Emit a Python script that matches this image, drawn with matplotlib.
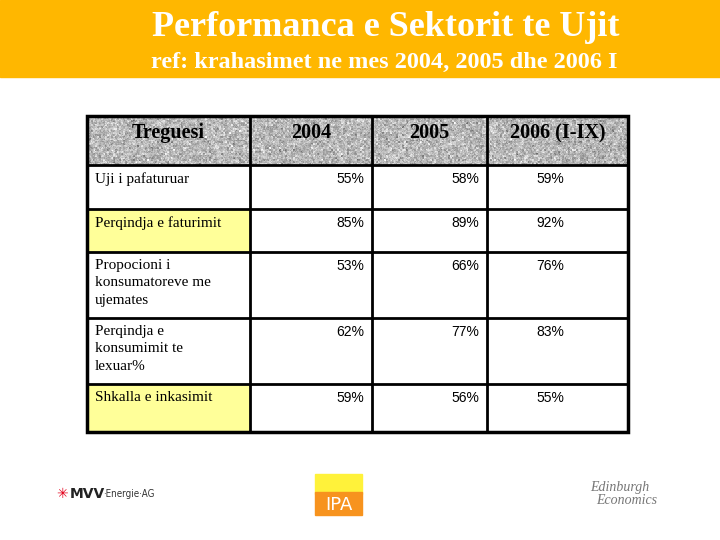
import numpy as np
import matplotlib.pyplot as plt
from matplotlib.patches import Rectangle

title = "Performanca e Sektorit te Ujit"
subtitle = "ref: krahasimet ne mes 2004, 2005 dhe 2006 I"
headers = ["Treguesi", "2004", "2005", "2006 (I-IX)"]
indicators = ["Uji i pafaturuar",
              "Perqindja e faturimit",
              "Propocioni i\nkonsumatoreve me\nujemates",
              "Perqindja e\nkonsumimit te\nlexuar%",
              "Shkalla e inkasimit"]
v2004 = [55, 85, 53, 62, 59]
v2005 = [58, 89, 66, 77, 56]
v2006 = [59, 92, 76, 83, 55]

# layout in pixels
col_x = [87, 250, 372, 487, 628]
row_y = [116, 165, 209, 252, 318, 384, 432]
yellow_rows = [1, 4]

fig = plt.figure(figsize=(7.2, 5.4), dpi=100)
ax = fig.add_axes([0, 0, 1, 1])
ax.set_xlim(0, 720)
ax.set_ylim(540, 0)
ax.axis('off')

serif = "Liberation Serif"

# orange band
ax.add_patch(Rectangle((0, 0), 720, 77, color="#FFB700", zorder=0))
ax.text(386, 28, title, ha='center', va='center', color='white',
        fontsize=26, fontweight='bold', family=serif, stretch='condensed')
ax.text(384, 62, subtitle, ha='center', va='center', color='white',
        fontsize=17.5, fontweight='bold', family=serif)

# header texture (granite look), purely decorative
rng = np.random.default_rng(3)
tex = rng.normal(0.72, 0.12, (25, 270))
tex = np.kron(tex, np.ones((2, 2))) * 0.6 + rng.normal(0.72, 0.12, (50, 540)) * 0.4
tex = tex.clip(0.35, 1)
ax.imshow(tex, cmap='gray', vmin=0, vmax=1, aspect='auto',
          extent=(col_x[0], col_x[-1], row_y[1], row_y[0]), zorder=1,
          interpolation='nearest')

for i, h in enumerate(headers):
    cx = (col_x[i] + col_x[i + 1]) / 2
    ax.text(cx, 133, h, ha='center', va='center', fontsize=14.5,
            fontweight='bold', family=serif, zorder=3)

cols = [v2004, v2005, v2006]
for r, name in enumerate(indicators):
    top = row_y[r + 1]
    bot = row_y[r + 2]
    fc = "#FFFF99" if r in yellow_rows else "white"
    ax.add_patch(Rectangle((col_x[0], top), col_x[1] - col_x[0], bot - top,
                           facecolor=fc, edgecolor='none', zorder=1))
    ax.text(95, top + 7, name, ha='left', va='top', fontsize=11,
            family=serif, linespacing=1.45, zorder=3)
    for c, vals in enumerate(cols):
        txt = f"{vals[r]}%"
        if c < 2:
            ax.text(col_x[c + 2] - 8, top + 7, txt, ha='right', va='top',
                    fontsize=10, family='Liberation Sans', zorder=3)
        else:
            ax.text(550, top + 7, txt, ha='center', va='top',
                    fontsize=10, family='Liberation Sans', zorder=3)

# grid lines
for x in col_x:
    ax.plot([x, x], [row_y[0], row_y[-1]], color='black', lw=2, zorder=4)
for y in row_y:
    ax.plot([col_x[0], col_x[-1]], [y, y], color='black', lw=2, zorder=4)
ax.add_patch(Rectangle((col_x[0], row_y[0]), col_x[-1] - col_x[0],
                       row_y[-1] - row_y[0], fill=False, lw=2.5,
                       edgecolor='black', zorder=5))

# logos
ax.text(56, 494, "\u2733", color='#E3001B', fontsize=10, ha='left',
        va='center', family='DejaVu Sans')
ax.text(70, 494, "MVV", color='#222222', fontsize=10, fontweight='bold',
        ha='left', va='center', family='DejaVu Sans')
ax.text(103, 494, "\u00b7Energie\u00b7AG", color='#333333', fontsize=7,
        ha='left', va='center', family='DejaVu Sans', stretch='condensed')

ax.add_patch(Rectangle((315, 474), 47, 20, color='#FFF23A', zorder=1))
ax.add_patch(Rectangle((315, 492), 47, 23, color='#F7931E', zorder=1))
ax.text(338.5, 505, "IPA", color='white', fontsize=13, ha='center',
        va='center', family='DejaVu Sans', zorder=2)

ax.text(590, 488, "Edinburgh", color='#777777', fontsize=10, style='italic',
        ha='left', va='center', family=serif)
ax.text(596, 500, "Economics", color='#777777', fontsize=10, style='italic',
        ha='left', va='center', family=serif)

fig.savefig("out.png", dpi=100)
